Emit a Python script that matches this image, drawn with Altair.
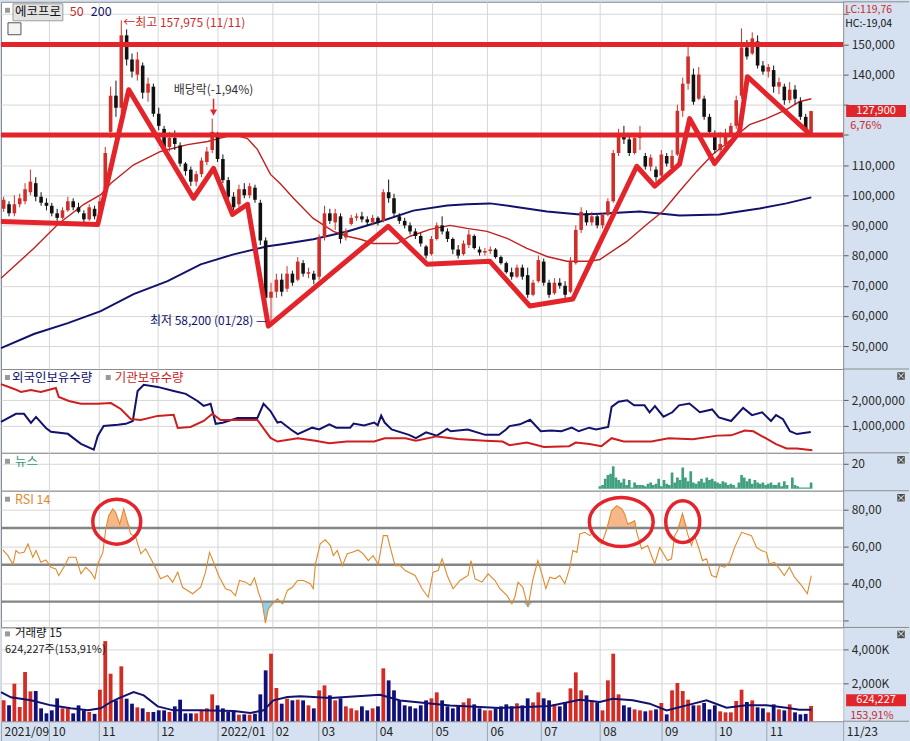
import altair as alt
import pandas as pd

FONT = "Noto Sans CJK KR"
T_MAX = 315
W = 844
H_MAIN, H_HOLD, H_NEWS, H_RSI, H_VOL = 368, 84, 38, 137, 94
RIGHT_EDGE = 910
LEFT_SHIFT = -10

THICK = "#e3242b"
UP = "#cf2e29"
DOWN = "#111111"
MA50_C = "#c0201e"
NAVY = "#12126c"
GRID = "#d6d6d6"
BORDER = "#8c8c8c"
BG = "#d5e1f0"
RSI_C = "#e08a2e"

MONTH_T = [0, 17.9, 36.6, 58.6, 81, 101.5, 118.7, 140.4, 161.3, 181.8, 201.9, 224, 247.1, 267.3, 286.3]
MONTH_LABELS = ["2021/09", "10", "11", "12", "2022/01", "02", "03", "04", "05", "06", "07", "08", "09", "10", "11"]
END_LABEL = "11/23"

OPEN = [95.5, 97, 94, 97, 98, 101, 104, 99.5, 97.5, 96.5, 94, 92.5, 95, 98, 96, 94, 92, 95.5, 93, 102,
        121, 133, 129, 153, 145, 140, 143, 134, 136, 127, 122, 116, 119, 116.5, 110.5, 108.5, 104.5, 107, 111, 115,
        120, 112, 105, 99.5, 97, 102, 100, 102.5, 97.5, 85, 66, 68, 72, 69, 74, 72, 77.5, 74, 74, 73,
        86, 94, 91, 93, 86, 90.5, 92.5, 93, 92, 91, 92.5, 91.5, 101, 99, 93, 91.5, 90, 88, 86.5, 83,
        80.5, 85.5, 90, 88, 85.5, 82, 80.5, 83.5, 86.5, 82, 81, 81.5, 82, 79.5, 77.5, 74.5, 73, 76, 73.5, 67,
        71.5, 78, 71, 67.5, 71, 70, 68, 77.5, 88.5, 94, 91, 93, 90, 93.5, 98, 114, 120, 118.5, 114, 119,
        113, 109.5, 108.5, 106.5, 113, 109, 113.5, 128, 137, 140, 132, 132, 126, 120.5, 115, 117, 120.5, 123, 133, 149,
        147, 151, 143, 141, 141.5, 136, 136, 131.5, 135, 131, 126, 120.5]
CLOSE = [98.5, 94, 97, 99, 102, 104.5, 99.5, 97.5, 96.5, 94, 92.5, 95, 98, 96, 94.5, 92, 96, 93, 98, 114,
         133, 129, 153, 145, 141, 145, 134, 137, 127, 123, 116, 119, 117, 110.5, 108, 104.5, 107, 111.5, 114.5, 121,
         112, 105, 99.5, 96, 102, 100, 103, 98.5, 85, 66, 68, 72, 68, 74, 71, 78, 74, 74.5, 72, 86,
         94, 91.5, 94, 85.5, 88, 92.5, 93, 92, 91, 92.5, 91, 101, 99, 94, 91.5, 90, 88, 86.5, 84, 80,
         85.5, 90, 88, 85.5, 82, 80, 84, 87, 82.5, 81, 81.5, 82, 79.5, 77.5, 74.5, 73, 76, 73, 67, 71,
         78.5, 71, 67, 71, 70, 67, 78, 88.5, 94.5, 91, 93, 90, 93.5, 98, 114, 120.5, 118.5, 114, 119, 120,
         109.5, 112.5, 106, 113.5, 110.5, 113, 128, 137, 146, 131, 140, 126, 121, 115, 117, 120.5, 123, 131.5, 149, 146,
         152, 143, 141, 142.5, 136, 137.5, 131.5, 135, 132, 126, 121, 127.9]
HIGH = [99.5, 98, 100, 100.5, 104, 108.5, 106, 101, 99, 97.5, 95.5, 96, 99.5, 99, 97.5, 95, 97, 96.5, 99.5, 116,
        136, 138, 157.975, 155, 147, 147.5, 144, 139, 137, 129, 123, 121, 121.5, 117.5, 111, 109.5, 108, 112.5, 116, 125.4,
        121, 113.5, 106, 101, 103.5, 104, 104, 103.5, 98.5, 86, 71, 74, 74, 76.5, 75, 79.5, 78.5, 76, 75, 87,
        96.5, 95.5, 95.5, 94, 89, 93.5, 94, 94.5, 93, 93.5, 93, 102, 105.2, 100.5, 94, 92.5, 91, 89, 87.5, 83.5,
        86.5, 91, 93, 89, 86, 83.5, 85, 88.5, 87, 83, 82.5, 83, 82.5, 80, 78, 76, 77, 77, 76, 72,
        80, 79, 72, 72.5, 72.5, 71.5, 79.5, 90, 96, 95, 94.5, 93.5, 94, 99, 115, 122, 123, 119.5, 120.5, 123,
        114, 113.5, 109.5, 115, 114, 115, 130, 139, 150.5, 142, 142.5, 133, 127, 121.5, 121, 122, 124, 133, 155.3, 151.5,
        154, 153, 144.5, 143.5, 143, 139, 137, 137.5, 136.5, 132.5, 127, 128]
LOW = [94.5, 93, 93, 96, 97, 100, 98, 96.5, 95, 93, 91.5, 92, 94.5, 95, 94, 91, 91.5, 92, 92.5, 101,
       119, 126, 127, 143, 139, 138, 132, 131, 126, 121.5, 115, 114.5, 115, 109.5, 106.5, 103, 103, 106, 110, 114,
       111, 104, 98.5, 95, 96, 99, 99, 97.5, 83.5, 64, 58.2, 66, 66.5, 68, 70, 71.5, 73, 72.5, 70.5, 72,
       85, 90.5, 88.5, 84, 85, 90, 91.5, 91, 90, 90, 90, 91, 97.5, 93, 90.5, 89, 87, 85.5, 83, 79,
       80, 85, 87, 84.5, 80.5, 79, 80, 82.5, 82, 80, 80, 80.5, 79, 77, 74, 72, 72.5, 72, 66, 66.5,
       71, 70, 66, 67, 69, 66, 67.5, 77, 87.5, 90, 90, 89, 89, 93, 97.5, 113, 117, 113, 113.5, 115,
       108.5, 108, 104.5, 106, 109.5, 108, 113, 126, 135, 130, 131.5, 125, 120, 114, 113, 116, 119.5, 122, 132, 145,
       146.5, 142, 140, 139, 134, 133.5, 130, 130.5, 130, 125, 119.8, 120]
VOL_K = [960, 660, 1960, 560, 2660, 1500, 1520, 480, 180, 360, 1080, 480, 480, 180, 660, 360, 260, 150, 1600, 4515,
         2560, 960, 3000, 1060, 760, 540, 480, 260, 260, 360, 360, 260, 600, 1000, 180, 180, 180, 360, 480, 1320,
         660, 480, 260, 360, 100, 120, 100, 150, 1320, 2760, 3760, 1700, 760, 1060, 960, 1000, 960, 660, 480, 1560,
         1860, 1260, 960, 1080, 600, 480, 360, 600, 360, 480, 600, 2880, 2160, 1560, 960, 660, 600, 480, 660, 960,
         1080, 1440, 960, 600, 480, 600, 840, 1080, 720, 480, 360, 360, 480, 600, 720, 600, 780, 660, 1080, 840,
         1440, 1080, 960, 720, 600, 840, 1680, 2640, 1560, 1260, 960, 840, 360, 2160, 3760, 1320, 660, 540, 420, 360,
         300, 360, 420, 800, 120, 1560, 2000, 1520, 1000, 660, 660, 800, 420, 660, 300, 240, 240, 920, 1600, 860,
         960, 540, 480, 240, 720, 420, 360, 720, 240, 120, 150, 624.227]

MA50_T = [0, 12.3, 21.3, 31.0, 37.3, 41.1, 49.6, 59.7, 69.8, 77.3, 87.0, 92.2, 95.9, 100.8, 104.5, 109.4, 116.8,
          124.3, 129.5, 134.4, 139.2, 148.2, 153.0, 160.5, 168.0, 174.3, 181.8, 189.3, 196.7, 204.2, 211.7, 220.2,
          224.0, 234.0, 241.5, 247.5, 253.8, 260.2, 266.2, 273.6, 280.0, 286.3, 293.8, 298.6, 303.1]
MA50_P = [72.5, 82.4, 90.4, 97.0, 100.2, 104.0, 110.1, 114.5, 116.8, 117.8, 120.1, 118.8, 115.2, 106.9, 103.8, 99.0,
          92.3, 88.0, 86.4, 85.4, 84.0, 84.0, 86.4, 88.7, 90.0, 89.0, 88.0, 85.7, 82.4, 79.7, 78.1, 78.1, 78.7, 84.6,
          90.3, 94.6, 101.3, 107.9, 113.5, 118.8, 123.4, 125.4, 128.4, 131.0, 132.0]
MA200_T = [0, 12.3, 25.0, 37.3, 49.6, 62.3, 74.7, 87.0, 99.7, 104.5, 116.8, 129.5, 141.9, 154.2, 166.9, 174.3,
           182.9, 191.5, 204.2, 216.5, 224.0, 238.9, 253.8, 268.8, 276.2, 283.7, 293.8, 303.1]
MA200_P = [49.3, 54.0, 57.6, 61.6, 67.2, 71.5, 77.1, 80.4, 83.1, 83.7, 85.4, 88.0, 91.3, 94.9, 96.6, 97.0, 97.3,
           96.3, 94.6, 93.6, 93.9, 94.6, 93.3, 93.6, 94.6, 95.6, 97.3, 99.3]

HLINES_K = [150, 120]
FLAT_T = [0, 36.2]
FLAT_P = [91.3, 90.3]
ZIG_T = [36.2, 47.8, 72.0, 79.5, 86.6, 92.2, 100.0, 144.8, 159.4, 182.9, 197.8, 213.9, 237.8, 244.5, 253.8,
         257.6, 266.9, 276.2, 279.2, 301.6]
ZIG_P = [90.3, 135, 99, 108.9, 93.6, 97, 56.6, 89.7, 77.1, 78.1, 63.3, 65.6, 109.6, 103, 110.3, 125.4, 110.5,
         121, 139.3, 121.1]

FOR_T = [0, 5.6, 8.6, 11.2, 13.1, 16.8, 18.7, 25.0, 29.9, 34.7, 36.2, 38.4, 43.7, 46.7, 49.3, 51.1, 53.4, 58.6,
         64.6, 69.1, 73.5, 75.8, 78.4, 80.3, 82.9, 88.5, 95.9, 98.2, 100.8,
         103.4, 104.7, 108.4, 111.0, 116.4, 119.0, 122.8, 125.4, 130.6, 131.9, 135.8, 139.6, 140.9, 142.2, 143.5,
         146.1, 152.6, 155.2, 159.0, 163.0, 166.9, 168.2, 174.6, 181.1, 186.3, 188.9, 190.2, 194.1, 197.9, 201.9,
         205.7, 209.6, 213.5, 216.1, 220.0, 222.6, 227.1, 228.4, 231.0, 234.2, 236.8, 240.7, 242.6, 244.6, 247.8,
         251.1, 253.6, 257.5, 261.4, 266.0, 268.5, 273.1, 277.6, 280.9, 284.7, 288.0, 289.9, 292.5, 295.1, 297.7,
         302.9]
FOR_V = [1.16, 1.47, 1.47, 1.12, 1.35, 0.92, 0.77, 0.69, 0.30, 0.07, 0.61, 1.00, 1.04, 1.08, 1.19, 2.36, 2.60,
         2.52, 2.36, 2.25, 1.97, 1.78, 1.86, 1.08, 1.12, 1.31, 1.31, 1.86, 1.58,
         1.13, 1.16, 0.86, 0.68, 0.93, 0.86, 1.06, 0.93, 0.93, 1.09, 1.02, 1.13, 1.02, 1.40, 1.13,
         0.86, 0.65, 0.52, 0.75, 0.62, 0.88, 0.79, 0.86, 0.65, 0.65, 0.86, 0.99, 1.06, 1.24, 0.79,
         0.82, 0.79, 0.93, 0.79, 0.93, 0.86, 0.96, 1.74, 1.94, 2.00, 1.80, 1.80, 1.53, 1.77, 1.36,
         1.53, 1.80, 1.87, 1.53, 1.64, 1.33, 1.19, 1.70, 1.42, 1.53, 1.19, 1.42, 1.26, 0.79, 0.68,
         0.76]
INS_T = [0, 4.9, 7.5, 11.2, 14.9, 20.5, 21.6, 25.4, 29.9, 36.2, 41.1, 44.8, 48.5, 52.3, 58.6, 64.6, 66.1, 70.9,
         75.8, 79.1, 82.1, 87.0, 95.9, 100.8,
         103.4, 111.0, 117.6, 122.8, 129.3, 139.6, 143.5, 151.3, 155.2, 163.0, 170.8, 181.1, 187.6, 190.2, 196.7,
         203.1, 212.5, 215.0, 220.1, 224.6, 228.4, 232.9, 243.3, 249.7, 258.8, 267.9, 273.1, 278.2, 281.4, 286.0,
         289.9, 293.8, 297.7, 303.5]
INS_V = [2.63, 2.44, 2.32, 2.40, 2.32, 2.48, 2.13, 1.97, 1.86, 1.86, 1.89, 1.66, 1.27, 1.23, 1.39, 1.43, 0.92,
         0.96, 1.19, 1.47, 1.23, 1.23, 1.23, 0.53,
         0.39, 0.52, 0.42, 0.32, 0.39, 0.39, 0.52, 0.52, 0.42, 0.59, 0.49, 0.42, 0.39, 0.25, 0.35,
         0.18, 0.21, 0.35, 0.29, 0.21, 0.52, 0.39, 0.39, 0.52, 0.48, 0.62, 0.63, 0.82, 0.79, 0.52,
         0.29, 0.12, 0.12, 0.05]

NEWS_START = 224
NEWS = [2, 3, 8, 11, 12, 18, 9, 7, 5, 8, 3, 7, 1, 5, 3, 3, 3, 2, 4, 5, 3, 4, 8, 2, 7, 4, 3, 13, 5, 9,
        7, 17, 9, 6, 14, 5, 4, 6, 8, 5, 9, 7, 8, 6, 5, 4, 6, 5, 3, 4, 3, 1, 5, 11, 9, 6, 8, 4, 7, 5,
        4, 5, 3, 4, 5, 3, 3, 5, 2, 6, 3, 0, 9, 3, 2, 1, 1, 1, 1, 5]

RSI_T = [0.7, 2.6, 4.5, 5.6, 6.7, 8.6, 10.1, 11.9, 13.1, 14.9, 16.8, 18.7, 20.5, 21.6, 23.5, 25.4, 28.0, 29.9,
         31.7, 33.6, 35.1, 36.2, 38.1, 39.2, 40.3, 41.8, 42.9, 44.4, 45.9, 47.0, 48.5, 50.4, 52.3, 54.1, 57.1,
         59.7, 62.3, 64.2, 66.1, 67.9, 71.7, 74.7, 76.5, 78.0, 79.5, 81.4, 84.0, 85.9, 87.7, 89.2, 91.5, 93.3,
         94.8, 96.3, 97.8, 98.9, 100.0, 101.5, 103.4, 105.3, 107.1, 109.0, 110.9, 113.1, 115.7, 116.8, 117.6,
         119.4, 121.3, 123.2, 124.3, 125.8, 127.7, 129.5, 131.4, 133.6, 135.5, 137.4, 139.2, 141.1, 143.0, 144.5,
         145.6, 147.4, 149.3, 151.2, 154.9, 157.5, 159.8, 161.6, 163.5, 165.0, 166.9, 169.1, 171.7, 173.6, 174.7,
         175.8, 177.3, 179.9, 182.2, 184.8, 186.6, 189.3, 191.1, 192.2, 193.4, 195.2, 197.1, 199.0, 200.8, 202.3,
         203.8, 205.3, 207.2, 209.0, 210.9, 212.8, 213.9, 215.4, 216.5, 218.4, 220.2, 221.4, 223.2, 224.7, 226.6,
         228.4, 230.3, 232.2, 233.3, 234.4, 235.9, 237.0, 237.8, 239.6, 241.9, 244.5, 246.4, 249.3, 250.8, 252.0,
         253.1, 254.9, 256.8, 258.3, 259.4, 261.3, 262.4, 263.9, 265.8, 267.6, 268.8, 270.6, 272.5, 274.4, 277.0,
         278.8, 280.7, 282.6, 284.4, 286.3, 287.4, 289.3, 291.2, 293.0, 294.9, 296.8, 299.4, 301.6, 303.1]
RSI_V = [58.1, 55.0, 50.2, 57.8, 56.3, 56.8, 61.4, 54.1, 57.8, 51.4, 52.7, 48.7, 47.8, 44.2, 48.7, 54.1, 54.1,
         45.1, 48.7, 46.0, 42.4, 50.5, 56.8, 69.5, 76.7, 80.4, 78.5, 72.2, 80.4, 74.9, 66.8, 65.0, 56.0, 58.7,
         50.5, 42.4, 44.2, 40.6, 46.0, 37.8, 34.3, 37.8, 46.0, 56.8, 51.4, 44.2, 37.0, 36.1, 33.3, 41.5, 40.6,
         38.8, 42.9, 35.1, 28.8, 18.3, 26.1, 28.8, 31.5, 28.8, 36.1, 37.8, 41.5, 41.5, 39.7, 37.0, 50.5, 61.4,
         63.6, 60.5, 55.0, 57.8, 49.6, 56.0, 56.8, 58.1, 56.0, 52.3, 55.0, 50.2, 65.9, 65.9, 59.5, 49.6, 49.6,
         46.9, 44.2, 37.0, 32.4, 46.0, 46.9, 53.3, 44.2, 37.0, 41.5, 43.3, 44.2, 52.3, 42.4, 40.6, 45.1, 41.5,
         37.0, 33.3, 28.8, 32.4, 40.6, 37.8, 27.0, 42.4, 52.3, 45.1, 37.0, 43.3, 42.4, 44.2, 39.7, 48.7, 57.8,
         56.8, 66.8, 67.7, 65.9, 67.7, 63.2, 61.4, 69.5, 79.5, 82.2, 80.4, 77.7, 72.2, 73.1, 74.0, 67.7, 58.7,
         60.5, 50.5, 59.5, 52.3, 53.3, 65.9, 68.6, 78.0, 66.8, 60.5, 65.9, 57.8, 52.3, 53.3, 44.2, 43.3, 49.6,
         48.7, 51.4, 59.5, 67.7, 66.8, 65.9, 59.5, 57.8, 56.8, 50.5, 51.4, 47.8, 44.2, 48.7, 43.3, 38.8, 34.3, 44.2]

VMA_T = [0, 3.7, 11.2, 18.7, 26.1, 32.5, 37.3, 41.1, 43.7, 49.6, 53.4, 58.6, 64.6, 74.7, 87.0, 93.3, 98.2, 101.9,
         107.1, 112.0, 123.2, 141.8, 149.3, 168.0, 186.6, 205.3, 216.5, 224.0, 228.8, 236.3, 242.6, 249.0, 256.4,
         263.9, 271.4, 278.8, 286.3, 293.8, 298.6, 303.1]
VMA_V = [1460, 1140, 960, 660, 480, 360, 480, 860, 1060, 1460, 1260, 600, 360, 360, 320, 200, 360, 960, 1160, 1200,
         1100, 1300, 950, 650, 500, 620, 1000, 860, 1060, 960, 760, 360, 660, 960, 520, 660, 660, 520, 400, 400]

HIGH_T, HIGH_P, HIGH_TXT = 45, 157975, "←최고 157,975 (11/11)"
LOW_T, LOW_P, LOW_TXT = 100.5, 58200, "최저 58,200 (01/28) —"
DIV_T, DIV_TXT = 79.5, "배당락(-1,94%)"
LAST_CLOSE = 127900
CIRCLES = [(43.3, 73.5, 2304, "M-1,0 A1,0.94 0 1,1 1,0 A1,0.94 0 1,1 -1,0 Z"),
           (232.0, 73.3, 4096, "M-1,0 A1,0.77 0 1,1 1,0 A1,0.77 0 1,1 -1,0 Z"),
           (255.0, 73.5, 1764, "M-0.81,0 A0.81,1 0 1,1 0.81,0 A0.81,1 0 1,1 -0.81,0 Z")]

candles = pd.DataFrame({
    "t": [2 * i + 1 for i in range(len(OPEN))],
    "o": [v * 1000 for v in OPEN], "c": [v * 1000 for v in CLOSE],
    "h": [v * 1000 for v in HIGH], "l": [v * 1000 for v in LOW],
    "vol": [v * 1000 for v in VOL_K],
})
candles["dir"] = ["up" if c >= o else "down" for o, c in zip(candles["o"], candles["c"])]
candles["vdir"] = ["vup" if d == "up" else "vdown" for d in candles["dir"]]
ma50 = pd.DataFrame({"t": MA50_T, "p": [v * 1000 for v in MA50_P]})
ma200 = pd.DataFrame({"t": MA200_T, "p": [v * 1000 for v in MA200_P]})
flat = pd.DataFrame({"t": FLAT_T, "p": [v * 1000 for v in FLAT_P]})
zig = pd.DataFrame({"t": ZIG_T, "p": [v * 1000 for v in ZIG_P]})
hl = pd.DataFrame({"p": [v * 1000 for v in HLINES_K]})
fore = pd.DataFrame({"t": FOR_T, "v": [x * 1e6 for x in FOR_V]})
inst = pd.DataFrame({"t": INS_T, "v": [x * 1e6 for x in INS_V]})
news = pd.DataFrame({"t": list(range(NEWS_START, NEWS_START + len(NEWS))), "n": NEWS})
rsi = pd.DataFrame({"t": RSI_T, "v": RSI_V})
vma = pd.DataFrame({"t": VMA_T, "v": [x * 1000 for x in VMA_V]})
ONE = pd.DataFrame({"k": [0]})

XS = alt.Scale(domain=[0, T_MAX], nice=False, zero=False, padding=0)
AX_GRID = alt.Axis(values=MONTH_T[1:], grid=True, gridColor=GRID, labels=False, ticks=False,
                   domain=False, title=None)
_keys = ",".join("'%g':'%s'" % (v, s) for v, s in
                 zip(MONTH_T + [T_MAX], MONTH_LABELS + ["\u00a0\u00a0" + END_LABEL]))
AX_BOTTOM = alt.Axis(values=MONTH_T + [T_MAX], grid=True, gridColor=GRID, labels=True, ticks=True,
                     tickSize=20, tickColor="#9aa6b6", domain=False, labelAlign="left",
                     labelBaseline="middle", labelPadding=-10, labelOffset=3, labelFlush=False,
                     labelOverlap=False, labelExpr="{" + _keys + "}[''+datum.value]",
                     labelFont=FONT, labelFontSize=12, labelColor="#222222", title=None)


def yscale(lo, hi):
    return alt.Scale(domain=[lo, hi], nice=False, zero=False, padding=0)


def yaxis(values, fmt=None, expr=None):
    kw = dict(orient="right", values=values, grid=True, gridColor=GRID, domain=False,
              tickSize=5, tickColor="#5a5a5a", labelPadding=3, labelFont=FONT,
              labelFontSize=12, labelColor="#2a2a2a", title=None)
    if fmt:
        kw["format"] = fmt
    if expr:
        kw["labelExpr"] = expr
    return alt.Axis(**kw)


def X(axis=AX_GRID):
    return alt.X("t:Q", scale=XS, axis=axis)


def ptext(x, y, s, color, size=12, align="left"):
    return alt.Chart(ONE).mark_text(align=align, baseline="middle", color=color, fontSize=size,
                                    font=FONT).encode(x=alt.value(x), y=alt.value(y), text=alt.value(s))


def prect(x1, x2, y1, y2, fill, stroke=None):
    kw = dict(color=fill)
    if stroke:
        kw.update(stroke=stroke, strokeWidth=1)
    return alt.Chart(ONE).mark_rect(**kw).encode(x=alt.value(x1), x2=alt.value(x2),
                                                  y=alt.value(y1), y2=alt.value(y2))


def band_rule(y):
    return alt.Chart(ONE).mark_rule(color=BORDER).encode(x=alt.value(W), x2=alt.value(RIGHT_EDGE),
                                                          y=alt.value(y))


def legend_box(x, y):
    return prect(x, x + 5, y - 3, y + 2, "#9a9a9a")


def close_icon():
    return [alt.Chart(ONE).mark_square(size=56, color="#4a4a4a", opacity=1).encode(
                x=alt.value(902), y=alt.value(7)),
            ptext(902, 7, "×", "white", size=9, align="center")]


DIRC = alt.Color("dir:N", scale=alt.Scale(domain=["up", "down"], range=[UP, DOWN]), legend=None)

YM = yscale(42390, 164125)
AX_M = yaxis(list(range(50000, 160001, 10000)),
             expr="(datum.value >= 160000 || datum.value == 120000 || datum.value == 130000) ? '' : format(datum.value, ',d')")


def ym(f):
    return alt.Y(f + ":Q", scale=YM, axis=AX_M)


main_layers = [
    alt.Chart(ma200).mark_line(color=NAVY, strokeWidth=2).encode(x=X(), y=ym("p")),
    alt.Chart(ma50).mark_line(color=MA50_C, strokeWidth=1.4).encode(x=X(), y=ym("p")),
    alt.Chart(candles).mark_rule(strokeWidth=1).encode(x=X(), y=ym("l"), y2=alt.Y2("h:Q"), color=DIRC),
    alt.Chart(candles).mark_bar(size=3.6).encode(x=X(), y=ym("o"), y2=alt.Y2("c:Q"), color=DIRC),
    alt.Chart(hl).mark_rule(color=THICK, strokeWidth=5).encode(y=ym("p")),
    alt.Chart(flat).mark_line(color=THICK, strokeWidth=5).encode(x=X(), y=ym("p")),
    alt.Chart(zig).mark_line(color=THICK, strokeWidth=5, strokeJoin="round", strokeCap="round").encode(
        x=X(), y=ym("p")),
    alt.Chart(pd.DataFrame({"t": [HIGH_T], "p": [HIGH_P], "s": [HIGH_TXT]})).mark_text(
        align="left", baseline="middle", dx=2, dy=3, color="#cc2a2c", fontSize=12, font=FONT).encode(
        x=X(), y=ym("p"), text="s:N"),
    alt.Chart(pd.DataFrame({"t": [LOW_T], "p": [LOW_P], "s": [LOW_TXT]})).mark_text(
        align="right", baseline="middle", dx=-3, color=NAVY, fontSize=12, font=FONT).encode(
        x=X(), y=ym("p"), text="s:N"),
    alt.Chart(pd.DataFrame({"t": [DIV_T], "p": [135000], "s": [DIV_TXT]})).mark_text(
        align="center", baseline="middle", color="#333333", fontSize=12, font=FONT).encode(
        x=X(), y=ym("p"), text="s:N"),
    alt.Chart(pd.DataFrame({"t": [DIV_T], "p": [132000], "q": [128300]})).mark_rule(
        color=THICK, strokeWidth=1.5).encode(x=X(), y=ym("p"), y2=alt.Y2("q:Q")),
    alt.Chart(pd.DataFrame({"t": [DIV_T], "p": [127400]})).mark_point(
        shape="triangle-down", size=50, filled=True, color=THICK, opacity=1).encode(x=X(), y=ym("p")),
    legend_box(4, 9),
    prect(12, 62, 2, 19, "#e3e3e3", "#a0a0a0"),
    ptext(37, 10.5, "에코프로", "#111111", size=12.5, align="center"),
    ptext(69, 10.5, "50", "#c0282c", size=12.5),
    ptext(90, 10.5, "200", NAVY, size=12.5),
    prect(7, 20, 21, 33, "#f4f4f4", "#555555"),
    ptext(846, 8.5, "LC:119,76", "#cc2a2c", size=10.5),
    ptext(846, 22, "HC:-19,04", "#111111", size=10.5),
    alt.Chart(ONE).mark_rect(color="#e0262b").encode(
        x=alt.value(847), x2=alt.value(907),
        y=alt.Y(datum=LAST_CLOSE + 2000, scale=YM, axis=AX_M), y2=alt.Y2(datum=LAST_CLOSE - 2000)),
    alt.Chart(ONE).mark_text(color="white", align="center", baseline="middle", fontSize=11,
                             font=FONT).encode(
        x=alt.value(877), y=alt.Y(datum=LAST_CLOSE, scale=YM, axis=AX_M), text=alt.value("127,900")),
    ptext(851, 124, "6,76%", "#cc2a2c", size=11),
    band_rule(0),
]
main = alt.layer(*main_layers).properties(width=W, height=H_MAIN)

YH = yscale(-50500, 3218000)
AX_H = yaxis([1000000, 2000000], fmt=",d")
hold = alt.layer(
    alt.Chart(fore).mark_line(color=NAVY, strokeWidth=2).encode(
        x=X(), y=alt.Y("v:Q", scale=YH, axis=AX_H)),
    alt.Chart(inst).mark_line(color="#cc1f1f", strokeWidth=2).encode(
        x=X(), y=alt.Y("v:Q", scale=YH, axis=AX_H)),
    legend_box(4, 9),
    ptext(11, 9, "외국인보유수량", NAVY, size=12.5),
    legend_box(105, 9),
    ptext(114, 9, "기관보유수량", "#cc1f1f", size=12.5),
    band_rule(0),
    *close_icon(),
).properties(width=W, height=H_HOLD)

YN = yscale(-1.6, 28.8)
AX_N = yaxis([20], fmt="d")
news_c = alt.layer(
    alt.Chart(news).mark_bar(size=2.7, color="#3f9f80").encode(
        x=X(), y=alt.Y("n:Q", scale=YN, axis=AX_N), y2=alt.Y2(datum=0)),
    legend_box(4, 9),
    ptext(14, 9, "뉴스", "#3a9a80", size=12.5),
    band_rule(0),
    *close_icon(),
).properties(width=W, height=H_NEWS)

YR = yscale(15.96, 90.31)
AX_R = yaxis([20, 40, 60, 80],
             expr="datum.value == 20 ? '' : replace(format(datum.value, '.2f'), '.', ',')")


def yr(f):
    return alt.Y(f + ":Q", scale=YR, axis=AX_R)


rsi_layers = [
    alt.Chart(rsi).transform_calculate(hi="max(datum.v, 70)").mark_area(color="#f6b889", opacity=1).encode(
        x=X(), y=yr("hi"), y2=alt.Y2(datum=70)),
    alt.Chart(rsi).transform_calculate(lo="min(datum.v, 30)").mark_area(color="#8fd0ee", opacity=1).encode(
        x=X(), y=yr("lo"), y2=alt.Y2(datum=30)),
    alt.Chart(pd.DataFrame({"r": [70, 50, 30]})).mark_rule(color="#858585", strokeWidth=2.5).encode(y=yr("r")),
    alt.Chart(rsi).mark_line(color=RSI_C, strokeWidth=1.1).encode(x=X(), y=yr("v")),
]
for ct, cv, csize, cpath in CIRCLES:
    rsi_layers.append(
        alt.Chart(pd.DataFrame({"t": [ct], "v": [cv]})).mark_point(
            shape=cpath, size=csize, filled=False, color=THICK, strokeWidth=3.5, opacity=1).encode(
            x=X(), y=yr("v")))
rsi_layers += [legend_box(4, 9), ptext(14, 9, "RSI 14", RSI_C, size=12.5), band_rule(0), *close_icon()]
rsi_c = alt.layer(*rsi_layers).properties(width=W, height=H_RSI)

VOL_FLOOR = -293000
YV = yscale(VOL_FLOOR, 5335000)
AX_V = yaxis([2000000, 4000000], expr="format(datum.value / 1000, ',d') + 'K'")
VDIR = alt.Color("vdir:N", scale=alt.Scale(domain=["vup", "vdown"], range=["#d42b25", "#10107a"]), legend=None)
vol = alt.layer(
    alt.Chart(candles).mark_bar(size=3.8).encode(
        x=X(AX_BOTTOM), y=alt.Y("vol:Q", scale=YV, axis=AX_V), y2=alt.Y2(datum=VOL_FLOOR), color=VDIR),
    alt.Chart(vma).mark_line(color=NAVY, strokeWidth=2).encode(
        x=X(AX_BOTTOM), y=alt.Y("v:Q", scale=YV, axis=AX_V)),
    legend_box(4, 7),
    ptext(14, 7, "거래량  15", "#111111", size=11.5),
    ptext(4, 22.5, "624,227주(153,91%)", "#222222", size=11),
    prect(847, 907, 67, 79, "#e0262b"),
    ptext(877, 73, "624,227", "white", size=11, align="center"),
    ptext(851, 89, "153,91%", "#cc2a2c", size=11),
    band_rule(0),
    band_rule(H_VOL),
    *close_icon(),
).properties(width=W, height=H_VOL)

chart = alt.vconcat(main, hold, news_c, rsi_c, vol, spacing=0, bounds="flush").resolve_scale(
    color="independent"
).properties(
    padding={"left": LEFT_SHIFT, "top": 0, "right": 0, "bottom": 0}, background=BG
).configure_view(fill="white", stroke=BORDER, strokeWidth=1).configure_text(font=FONT)

chart.save("out.html", embed_options={"renderer": "svg", "actions": False})
